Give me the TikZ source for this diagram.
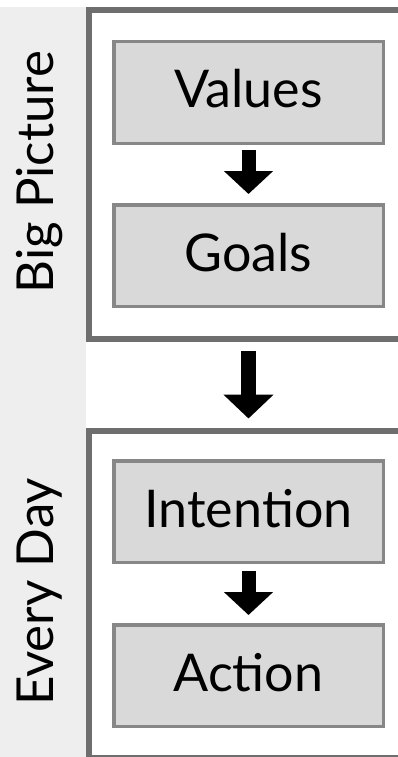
\documentclass[tikz,border=0pt]{standalone}
\usepackage{fontspec}
\setmainfont{Lato}
\usetikzlibrary{arrows.meta}
\definecolor{panelgray}{HTML}{EEEEEE}
\definecolor{framegray}{HTML}{6E6E6E}
\definecolor{boxfill}{HTML}{D9D9D9}
\definecolor{boxline}{HTML}{878787}

\begin{document}
\begin{tikzpicture}[x=1pt,y=-1pt,
  frame/.style={draw=framegray, line width=6pt, rectangle, inner sep=0pt, minimum width=340.7pt},
  stepbox/.style={draw=boxline, fill=boxfill, line width=3.5pt, rectangle, inner sep=0pt,
    minimum width=269.5pt, minimum height=101.5pt, text height=40pt, text depth=9pt,
    font=\fontsize{52}{52}\selectfont},
  sidelabel/.style={rotate=90, inner sep=0pt, text height=38pt, text depth=0pt,
    font=\fontsize{51}{51}\selectfont},
  flow/.style={black, line width=14pt, -{Triangle[width=48pt,length=23pt]}},
]
  % page and label strip
  \clip (0,0) rectangle (398,757);
  \fill[white] (0,0) rectangle (398,757);
  \fill[panelgray] (0,7) rectangle (86,757);

  % the two frames
  \node[frame, minimum height=329pt] (bigpic) at (259.65,174.5) {};
  \node[frame, minimum height=327.5pt] (everyday) at (259.65,594.25) {};

  % side labels
  \node[sidelabel] (bigpiclabel) at (34.5,172) {Big Picture};
  \node[sidelabel] (everydaylabel) at (34.5,592) {Every Day};

  % steps
  \node[stepbox] (values) at (248.5,92.5) {Values};
  \node[stepbox] (goals) at (248.5,255.5) {Goals};
  \node[stepbox] (intention) at (248.5,511.5) {Intention};
  \node[stepbox] (action) at (248.5,675.5) {Action};

  % arrows
  \draw[flow, shorten <=5pt, shorten >=9pt] (values) -- (goals);
  \draw[flow, shorten <=7pt, shorten >=8pt] (intention) -- (action);
  \draw[flow, line width=15pt, -{Triangle[width=49pt,length=24pt]}, shorten <=9pt, shorten >=9pt]
    (values.south |- bigpic.south) -- (values.south |- everyday.north);
\end{tikzpicture}
\end{document}
